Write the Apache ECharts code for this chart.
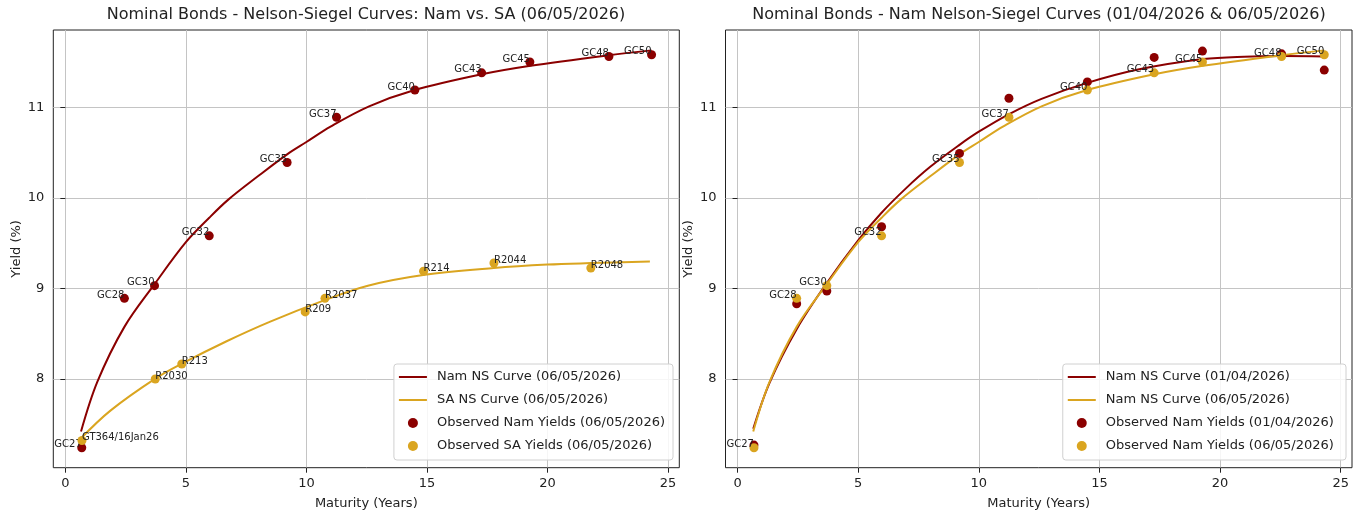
<!DOCTYPE html>
<html><head><meta charset="utf-8">
<script src="https://cdn.jsdelivr.net/npm/echarts@6/dist/echarts.min.js"></script>
<style>html,body{margin:0;padding:0;background:#fff}#c{width:1367px;height:522px}</style>
</head><body><div id="c"></div>
<script>
// ---- Data ----
const namBonds = ['GC27','GC28','GC30','GC32','GC35','GC37','GC40','GC43','GC45','GC48','GC50'];
const namMaturity = [0.68, 2.45, 3.7, 5.97, 9.2, 11.25, 14.5, 17.27, 19.27, 22.55, 24.32];
const namYield0605 = [7.24, 8.89, 9.03, 9.58, 10.39, 10.89, 11.19, 11.38, 11.50, 11.56, 11.58];
const namYield0104 = [7.27, 8.83, 8.97, 9.68, 10.49, 11.10, 11.28, 11.55, 11.62, 11.59, 11.41];

const saBonds = ['GT364/16Jan26','R2030','R213','R209','R2037','R214','R2044','R2048'];
const saMaturity = [0.69, 3.73, 4.83, 9.95, 10.77, 14.86, 17.78, 21.8];
const saYield0605 = [7.32, 8.00, 8.165, 8.74, 8.89, 9.19, 9.28, 9.225];

const namCurveMaturity = [0.65, 1.33, 2.45, 3.7, 5.0, 5.97, 6.76, 8.0, 9.2, 10.0, 11.0, 12.6, 14.46, 17.22, 19.23, 22.47, 24.32];
const namCurve0605 = [7.42, 7.97, 8.575, 9.047, 9.51, 9.78, 9.98, 10.24, 10.48, 10.616, 10.786, 11.01, 11.187, 11.361, 11.455, 11.572, 11.628];

const namCurve0104Maturity = [0.65, 1.33, 2.45, 3.7, 5.0, 5.95, 7.0, 8.0, 9.2, 10.0, 11.26, 12.6, 14.46, 16.6, 19.3, 21.0, 22.6, 24.32];
const namCurve0104 = [7.45, 7.96, 8.55, 9.06, 9.53, 9.83, 10.11, 10.345, 10.585, 10.73, 10.925, 11.093, 11.266, 11.416, 11.532, 11.559, 11.565, 11.56];

const saCurveMaturity = [0.65, 1.87, 3.73, 4.83, 6.69, 8.5, 10.76, 12.55, 14.85, 17.77, 20.0, 21.79, 24.25];
const saCurve0605 = [7.345, 7.65, 8.003, 8.168, 8.416, 8.633, 8.87, 9.03, 9.148, 9.225, 9.263, 9.279, 9.296];

const xTicks = [0, 5, 10, 15, 20, 25];
const yTicks = [8, 9, 10, 11];

// ---- Styling ----
const FONT = 'DejaVu Sans';
const RED = '#8B0000';
const GOLD = '#DAA520';
const CLEAR = 'rgba(0,0,0,0)';

const pairs = (xs, ys) => xs.map((x, i) => [x, ys[i]]);
const named = (names, xs, ys) => names.map((n, i) => ({ name: n, value: [xs[i], ys[i]] }));

function mkLabel(align) {
  return {
    show: true, formatter: '{b}', position: ['50%', '50%'],
    align: align, verticalAlign: 'bottom', offset: [0, 2],
    fontFamily: FONT, fontSize: 10, color: '#222'
  };
}

function xAxisCfg(gi) {
  return {
    type: 'value', gridIndex: gi, min: -0.5, max: 25.47,
    name: 'Maturity (Years)', nameLocation: 'middle', nameGap: 29,
    nameTextStyle: { fontFamily: FONT, fontSize: 13, color: '#222' },
    axisLine: { show: false },
    axisTick: { show: true, inside: false, length: 5, lineStyle: { color: '#222', width: 1 }, customValues: xTicks },
    axisLabel: { fontFamily: FONT, fontSize: 13, color: '#222', margin: 9, customValues: xTicks },
    splitLine: { show: true, lineStyle: { color: '#c4c4c4', width: 1 } }
  };
}
function yAxisCfg(gi) {
  return {
    type: 'value', gridIndex: gi, min: 7.02, max: 11.853,
    name: 'Yield (%)', nameLocation: 'middle', nameGap: 30,
    nameTextStyle: { fontFamily: FONT, fontSize: 13, color: '#222' },
    axisLine: { show: false },
    axisTick: { show: true, inside: false, length: 5, lineStyle: { color: '#222', width: 1 }, customValues: yTicks },
    axisLabel: { fontFamily: FONT, fontSize: 13, color: '#222', margin: 9, customValues: yTicks },
    splitLine: { show: true, lineStyle: { color: '#c4c4c4', width: 1 } }
  };
}
function legendCfg(right, items) {
  return {
    orient: 'vertical', right: right, bottom: 62,
    backgroundColor: 'rgba(255,255,255,0.85)', borderColor: '#d0d0d0', borderWidth: 1, borderRadius: 3,
    padding: [5, 8, 6, 4], itemGap: 7, itemWidth: 28, itemHeight: 10,
    textStyle: { fontFamily: FONT, fontSize: 13, color: '#222', lineHeight: 16, padding: [0, 0, 0, 5] },
    data: items
  };
}
const lineItem = (name, color) => ({ name: name, lineStyle: { color: color, width: 2 }, itemStyle: { color: CLEAR, borderColor: CLEAR, borderWidth: 0, opacity: 0 } });
const dotItem = (name, color) => ({ name: name, icon: 'circle', itemStyle: { color: color } });

const titleStyle = { fontFamily: FONT, fontSize: 16, fontWeight: 'normal', color: '#222' };

const curveCommon = { smooth: 0.35, symbol: 'none', z: 2 };

const option = {
  animation: false,
  backgroundColor: '#fff',
  title: [
    { text: 'Nominal Bonds - Nelson-Siegel Curves: Nam vs. SA (06/05/2026)', left: 366, top: 7, padding: 0, textAlign: 'center', textStyle: titleStyle },
    { text: 'Nominal Bonds - Nam Nelson-Siegel Curves (01/04/2026 & 06/05/2026)', left: 1039, top: 7, padding: 0, textAlign: 'center', textStyle: titleStyle }
  ],
  grid: [
    { left: 53.3, top: 30, width: 626, height: 437.7, show: true, borderColor: '#222', borderWidth: 1, backgroundColor: 'transparent' },
    { left: 725.5, top: 30, width: 626.5, height: 437.7, show: true, borderColor: '#222', borderWidth: 1, backgroundColor: 'transparent' }
  ],
  xAxis: [xAxisCfg(0), xAxisCfg(1)],
  yAxis: [yAxisCfg(0), yAxisCfg(1)],
  legend: [
    legendCfg(694, [
      lineItem('Nam NS Curve (06/05/2026)', RED),
      lineItem('SA NS Curve (06/05/2026)', GOLD),
      dotItem('Observed Nam Yields (06/05/2026)', RED),
      dotItem('Observed SA Yields (06/05/2026)', GOLD)
    ]),
    legendCfg(21, [
      lineItem('Nam NS Curve (01/04/2026)', RED),
      lineItem('Nam NS Curve (06/05/2026) ', GOLD),
      dotItem('Observed Nam Yields (01/04/2026)', RED),
      dotItem('Observed Nam Yields (06/05/2026) ', GOLD)
    ])
  ],
  series: [
    // Left chart
    Object.assign({ type: 'line', name: 'Nam NS Curve (06/05/2026)', xAxisIndex: 0, yAxisIndex: 0, data: pairs(namCurveMaturity, namCurve0605),
      lineStyle: { color: RED, width: 2 }, itemStyle: { color: RED } }, curveCommon),
    Object.assign({ type: 'line', name: 'SA NS Curve (06/05/2026)', xAxisIndex: 0, yAxisIndex: 0, data: pairs(saCurveMaturity, saCurve0605),
      lineStyle: { color: GOLD, width: 2 }, itemStyle: { color: GOLD } }, curveCommon),
    { type: 'scatter', name: 'Observed Nam Yields (06/05/2026)', xAxisIndex: 0, yAxisIndex: 0, data: named(namBonds, namMaturity, namYield0605),
      symbolSize: 9, itemStyle: { color: RED, opacity: 1 }, label: mkLabel('right'), z: 3 },
    { type: 'scatter', name: 'Observed SA Yields (06/05/2026)', xAxisIndex: 0, yAxisIndex: 0, data: named(saBonds, saMaturity, saYield0605),
      symbolSize: 9, itemStyle: { color: GOLD, opacity: 1 }, label: mkLabel('left'), z: 4 },
    // Right chart
    Object.assign({ type: 'line', name: 'Nam NS Curve (01/04/2026)', xAxisIndex: 1, yAxisIndex: 1, data: pairs(namCurve0104Maturity, namCurve0104),
      lineStyle: { color: RED, width: 2 }, itemStyle: { color: RED } }, curveCommon),
    Object.assign({ type: 'line', name: 'Nam NS Curve (06/05/2026) ', xAxisIndex: 1, yAxisIndex: 1, data: pairs(namCurveMaturity, namCurve0605),
      lineStyle: { color: GOLD, width: 2 }, itemStyle: { color: GOLD } }, curveCommon),
    { type: 'scatter', name: 'Observed Nam Yields (01/04/2026)', xAxisIndex: 1, yAxisIndex: 1, data: named(namBonds, namMaturity, namYield0104),
      symbolSize: 9, itemStyle: { color: RED, opacity: 1 }, z: 3 },
    { type: 'scatter', name: 'Observed Nam Yields (06/05/2026) ', xAxisIndex: 1, yAxisIndex: 1, data: named(namBonds, namMaturity, namYield0605),
      symbolSize: 9, itemStyle: { color: GOLD, opacity: 1 }, label: mkLabel('right'), z: 4 }
  ]
};

const chart = echarts.init(document.getElementById('c'), null, { renderer: 'canvas' });
chart.setOption(option);
</script>
</body></html>
